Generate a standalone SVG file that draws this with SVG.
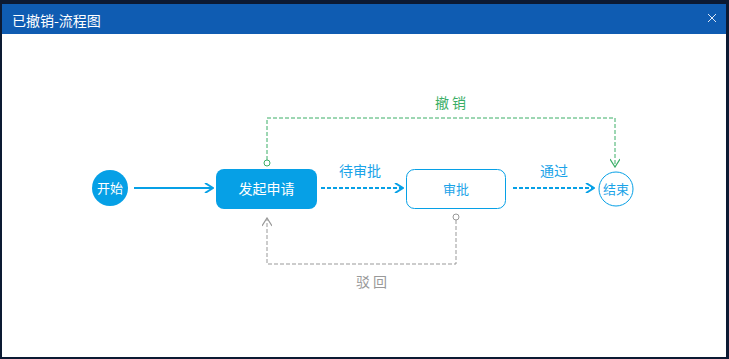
<svg xmlns="http://www.w3.org/2000/svg" width="729" height="359" viewBox="0 0 729 359">
<defs>
<style>
text{font-family:"Noto Sans CJK SC","Liberation Sans",sans-serif}
.blue{fill:#06a0e6}
.bluetext{fill:#1aa3e8}
.white{fill:#ffffff}
.solid{stroke:#06a0e6;stroke-width:2;fill:none}
.dash{stroke:#06a0e6;stroke-width:2;fill:none;stroke-dasharray:4 2}
.green{stroke:#3aae66;stroke-width:1;fill:none;stroke-dasharray:4 2}
.gray{stroke:#999999;stroke-width:1;fill:none;stroke-dasharray:4 2}
</style>
<marker id="ab" viewBox="0 0 10 10" refX="9" refY="5" markerWidth="10" markerHeight="10" markerUnits="userSpaceOnUse" orient="auto">
<path d="M1 0 L9 5 L1 10" fill="none" stroke="#06a0e6" stroke-width="2"/>
</marker>
<marker id="ag" viewBox="0 0 10 10" refX="9" refY="5" markerWidth="10" markerHeight="10" markerUnits="userSpaceOnUse" orient="auto">
<path d="M1 0 L9 5 L1 10" fill="none" stroke="#3aae66" stroke-width="1.2"/>
</marker>
<marker id="ay" viewBox="0 0 10 10" refX="9" refY="5" markerWidth="10" markerHeight="10" markerUnits="userSpaceOnUse" orient="auto">
<path d="M1 0 L9 5 L1 10" fill="none" stroke="#999999" stroke-width="1.2"/>
</marker>
</defs>
<rect x="0" y="0" width="729" height="359" fill="#0c1a33"/>
<rect x="2" y="4" width="724" height="353" fill="#ffffff"/>
<rect x="2" y="4" width="724" height="30" fill="#0f5cb2"/>
<text x="12" y="26" font-size="14" fill="#ffffff">已撤销-流程图</text>
<path d="M708 14 L716 22 M716 14 L708 22" stroke="#dfe8f5" stroke-width="1"/>

<g id="connectors">
<line x1="134" y1="188" x2="213" y2="188" class="solid" marker-end="url(#ab)"/>
<line x1="321" y1="188" x2="403" y2="188" class="dash" marker-end="url(#ab)"/>
<text x="360" y="176" font-size="14" text-anchor="middle" class="bluetext">待审批</text>
<line x1="513" y1="188" x2="594" y2="188" class="dash" marker-end="url(#ab)"/>
<text x="554" y="176" font-size="14" text-anchor="middle" class="bluetext">通过</text>
<path d="M267 160 V118 H615 V167" class="green" marker-end="url(#ag)"/>
<circle cx="267" cy="163" r="3" fill="#ffffff" stroke="#3aae66" stroke-width="1"/>
<text x="452" y="108" font-size="14" text-anchor="middle" fill="#3aae66" letter-spacing="3">撤销</text>
<path d="M456 220 V264 H267 V218" class="gray" marker-end="url(#ay)"/>
<circle cx="456" cy="217" r="3" fill="#ffffff" stroke="#999999" stroke-width="1"/>
<text x="373" y="287" font-size="14" text-anchor="middle" fill="#999999" letter-spacing="3">驳回</text>
</g>

<g id="start">
<circle cx="110" cy="188" r="18" class="blue"/>
<text x="110" y="193" font-size="13" text-anchor="middle" class="white">开始</text>
</g>
<g id="apply">
<rect x="216" y="169" width="101" height="40" rx="8" class="blue"/>
<text x="266.5" y="194" font-size="14" text-anchor="middle" class="white">发起申请</text>
</g>
<g id="approve">
<rect x="406.5" y="169.5" width="99" height="39" rx="8" fill="#ffffff" stroke="#06a0e6" stroke-width="1"/>
<text x="456" y="194" font-size="13" text-anchor="middle" class="bluetext">审批</text>
</g>
<g id="end">
<circle cx="616" cy="189" r="17" fill="#ffffff" stroke="#06a0e6" stroke-width="1"/>
<text x="616" y="194" font-size="13" text-anchor="middle" class="bluetext">结束</text>
</g>
</svg>
